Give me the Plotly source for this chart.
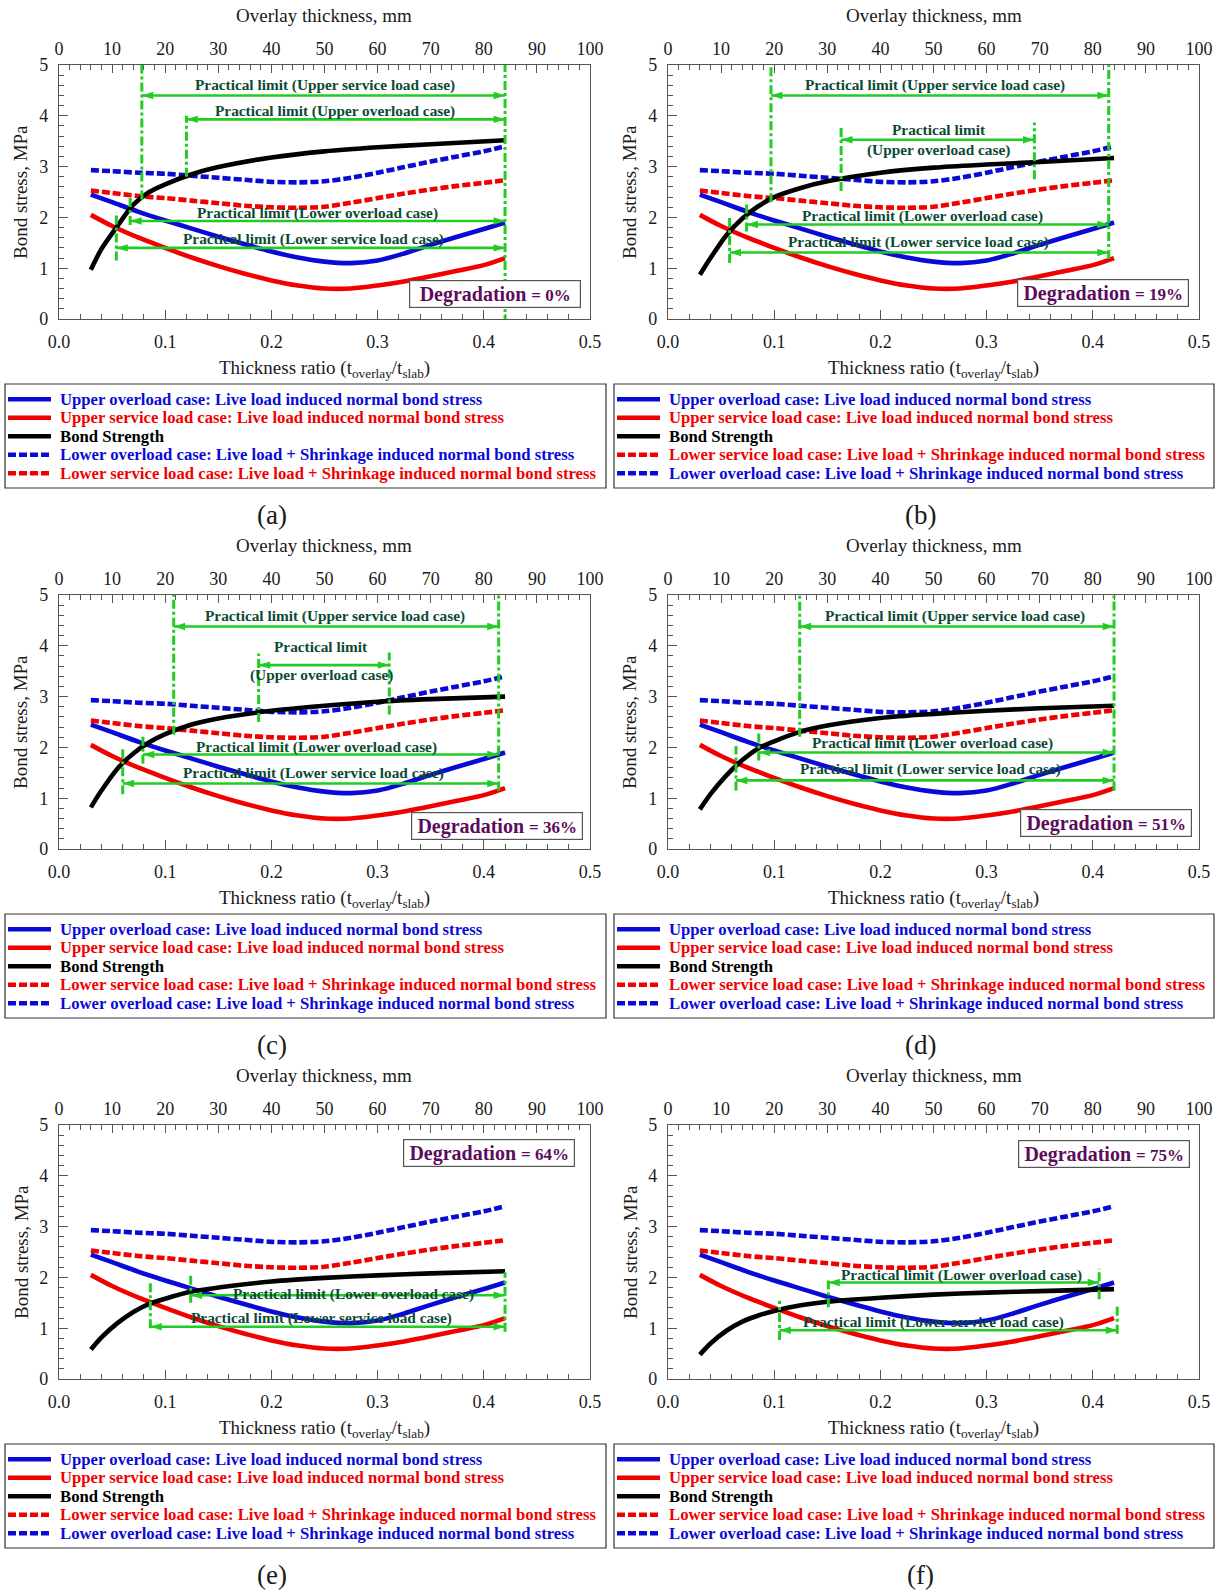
import plotly.graph_objects as go

FIG_W, FIG_H = 1230, 1592

# ---------------- data ----------------
ratio = [0.03, 0.05, 0.075, 0.1, 0.125, 0.15, 0.175, 0.2, 0.225, 0.25, 0.275, 0.3, 0.325, 0.35, 0.375, 0.4, 0.42]
upper_overload = [2.45, 2.30, 2.11, 1.94, 1.78, 1.62, 1.47, 1.33, 1.21, 1.13, 1.10, 1.15, 1.29, 1.46, 1.62, 1.77, 1.90]
upper_service = [2.05, 1.83, 1.60, 1.40, 1.21, 1.04, 0.89, 0.76, 0.66, 0.60, 0.60, 0.66, 0.74, 0.84, 0.95, 1.06, 1.20]
lower_overload = [2.93, 2.91, 2.88, 2.86, 2.82, 2.78, 2.74, 2.70, 2.69, 2.71, 2.78, 2.88, 2.99, 3.10, 3.20, 3.30, 3.40]
lower_service = [2.53, 2.48, 2.42, 2.38, 2.33, 2.28, 2.23, 2.20, 2.19, 2.21, 2.29, 2.38, 2.47, 2.55, 2.62, 2.68, 2.73]

bond_ratio = [0.03, 0.04, 0.055, 0.07, 0.085, 0.1, 0.125, 0.15, 0.2, 0.25, 0.3, 0.35, 0.42]
bond_a = [0.97, 1.38, 1.83, 2.25, 2.50, 2.65, 2.85, 2.99, 3.18, 3.30, 3.38, 3.44, 3.52]
bond_b = [0.87, 1.20, 1.65, 1.98, 2.22, 2.40, 2.58, 2.71, 2.88, 2.98, 3.04, 3.09, 3.17]
bond_c = [0.82, 1.15, 1.58, 1.88, 2.10, 2.26, 2.45, 2.57, 2.72, 2.82, 2.90, 2.95, 3.00]
bond_d = [0.78, 1.08, 1.45, 1.75, 1.98, 2.12, 2.31, 2.43, 2.58, 2.66, 2.72, 2.77, 2.82]
bond_e = [0.58, 0.82, 1.10, 1.32, 1.48, 1.58, 1.72, 1.80, 1.92, 1.99, 2.04, 2.08, 2.12]
bond_f = [0.48, 0.70, 0.95, 1.13, 1.25, 1.34, 1.45, 1.52, 1.60, 1.66, 1.70, 1.73, 1.77]
bond_strength = [bond_a, bond_b, bond_c, bond_d, bond_e, bond_f]

panel_labels = ['(a)', '(b)', '(c)', '(d)', '(e)', '(f)']
degradation = [0, 19, 36, 51, 64, 75]
deg_box_x = [0.411, 0.410, 0.412, 0.412, 0.405, 0.411]
deg_box_y = [0.49, 0.52, 0.45, 0.51, 4.45, 4.42]

top_ticks_mm = [0, 10, 20, 30, 40, 50, 60, 70, 80, 90, 100]
bottom_ticks = [0.0, 0.1, 0.2, 0.3, 0.4, 0.5]
y_ticks = [0, 1, 2, 3, 4, 5]

series_names = {
    'UO': 'Upper overload case: Live load induced normal bond stress',
    'US': 'Upper service load case: Live load induced normal bond stress',
    'BS': 'Bond Strength',
    'LO': 'Lower overload case: Live load + Shrinkage induced normal bond stress',
    'LS': 'Lower service load case: Live load + Shrinkage induced normal bond stress',
}
legend_orders = [['UO', 'US', 'BS', 'LO', 'LS']] + [['UO', 'US', 'BS', 'LS', 'LO']] * 5

# practical limits: case, start, end, arrow level, label position, start-line extent, optional end-line
practical_limits = [
    [  # (a)
        dict(case='Upper service load case', x0=0.078, x1=0.42, y=4.40, tx=0.25, ty=4.60, v=(2.35, 5.0)),
        dict(case='Upper overload case', x0=0.12, x1=0.42, y=3.93, tx=0.26, ty=4.09, v=(2.8, 4.0)),
        dict(case='Lower overload case', x0=0.067, x1=0.42, y=1.93, tx=0.243, ty=2.08, v=(1.85, 2.45)),
        dict(case='Lower service load case', x0=0.054, x1=0.42, y=1.40, tx=0.24, ty=1.57, v=(1.15, 2.1)),
    ],
    [  # (b)
        dict(case='Upper service load case', x0=0.097, x1=0.415, y=4.40, tx=0.251, ty=4.60, v=(2.3, 5.0)),
        dict(case='Upper overload case', x0=0.163, x1=0.345, y=3.53, tx=0.255, ty=3.74, ty2=3.33,
             v=(2.52, 3.82), vend=(2.75, 3.87)),
        dict(case='Lower overload case', x0=0.074, x1=0.415, y=1.86, tx=0.24, ty=2.03, v=(1.72, 2.32)),
        dict(case='Lower service load case', x0=0.058, x1=0.415, y=1.31, tx=0.236, ty=1.52, v=(1.1, 2.0)),
    ],
    [  # (c)
        dict(case='Upper service load case', x0=0.108, x1=0.414, y=4.38, tx=0.26, ty=4.59, v=(2.25, 5.0)),
        dict(case='Upper overload case', x0=0.188, x1=0.311, y=3.62, tx=0.247, ty=3.99, ty2=3.42,
             v=(2.5, 3.85), vend=(2.65, 3.87)),
        dict(case='Lower overload case', x0=0.079, x1=0.414, y=1.86, tx=0.242, ty=2.0, v=(1.68, 2.25)),
        dict(case='Lower service load case', x0=0.06, x1=0.414, y=1.29, tx=0.24, ty=1.5, v=(1.08, 1.97)),
    ],
    [  # (d)
        dict(case='Upper service load case', x0=0.124, x1=0.42, y=4.38, tx=0.27, ty=4.58, v=(2.21, 5.0)),
        dict(case='Lower overload case', x0=0.0855, x1=0.42, y=1.90, tx=0.249, ty=2.08, v=(1.74, 2.3)),
        dict(case='Lower service load case', x0=0.064, x1=0.42, y=1.35, tx=0.247, ty=1.57, v=(1.15, 2.03)),
    ],
    [  # (e)
        dict(case='Lower overload case', x0=0.124, x1=0.42, y=1.65, tx=0.277, ty=1.68, v=(1.5, 2.09)),
        dict(case='Lower service load case', x0=0.086, x1=0.42, y=1.03, tx=0.247, ty=1.2, v=(1.0, 1.91)),
    ],
    [  # (f)
        dict(case='Lower overload case', x0=0.151, x1=0.406, y=1.90, tx=0.276, ty=2.05, v=(1.41, 1.94),
             vend=(1.57, 2.17)),
        dict(case='Lower service load case', x0=0.105, x1=0.423, y=0.96, tx=0.25, ty=1.12, v=(0.77, 1.54),
             vend=(0.89, 1.48)),
    ],
]
# common right-hand limit line of each panel: x, y from, y to
end_lines = [(0.42, -0.1, 5.0), (0.415, 1.18, 5.0), (0.414, 1.15, 5.0), (0.42, 1.15, 5.0), (0.42, 0.93, 2.1), None]

# ---------------- style ----------------
BLUE = '#0a0ad8'
RED = '#f20000'
BLACK = '#000000'
GREEN = '#22cc22'
DKGREEN = '#0c4a34'
PURPLE = '#5c0c5c'
SERIF = 'Liberation Serif'
AXIS_COL = '#555555'

series_style = {
    'UO': dict(color=BLUE, dash='solid'),
    'US': dict(color=RED, dash='solid'),
    'BS': dict(color=BLACK, dash='solid'),
    'LO': dict(color=BLUE, dash='8px,3px'),
    'LS': dict(color=RED, dash='8px,3px'),
}

col_left = [59, 668]
col_right = [590, 1199]
row_top = [65, 595, 1125]
row_bottom = [319, 849, 1379]
ROW_OFF = 530


def pxx(p):
    return p / FIG_W


def pxy(p):
    return 1 - p / FIG_H


fig = go.Figure()
layout = dict(width=FIG_W, height=FIG_H, margin=dict(l=0, r=0, t=0, b=0, autoexpand=False),
              paper_bgcolor='white', plot_bgcolor='white', showlegend=False,
              font=dict(family=SERIF, color='#1a1a1a'))
shapes = []
annotations = []

tickfont = dict(family=SERIF, size=18, color='#1a1a1a')
titlefont = dict(family=SERIF, size=19, color='#1a1a1a')


def text_at(xref, yref, x, y, text, font, **kw):
    d = dict(xref=xref, yref=yref, x=x, y=y, text=text, font=font, showarrow=False,
             xanchor='center', yanchor='middle')
    d.update(kw)
    annotations.append(d)


for i in range(6):
    r, c = divmod(i, 2)
    xb = f'x{i + 1}'
    xt = f'x{i + 7}'
    yy = f'y{i + 1}'
    dom_x = [pxx(col_left[c]), pxx(col_right[c])]
    dom_y = [pxy(row_bottom[r]), pxy(row_top[r])]

    layout['xaxis' if i == 0 else f'xaxis{i + 1}'] = dict(
        domain=dom_x, anchor=yy, range=[0, 0.5], tickvals=bottom_ticks, tickformat='.1f',
        ticks='inside', ticklen=9, tickwidth=1, tickcolor=AXIS_COL,
        minor=dict(dtick=0.02, ticks='inside', ticklen=5, tickcolor=AXIS_COL),
        showline=True, linecolor=AXIS_COL, linewidth=1.2, showgrid=False, zeroline=False,
        tickfont=tickfont, ticklabelstandoff=6, fixedrange=True, automargin=False)
    layout[f'xaxis{i + 7}'] = dict(
        domain=dom_x, anchor=yy, overlaying=xb, side='top', range=[0, 100], tickvals=top_ticks_mm,
        ticks='inside', ticklen=8, tickwidth=1, tickcolor=AXIS_COL,
        minor=dict(dtick=2, ticks='inside', ticklen=5, tickcolor=AXIS_COL),
        showline=True, linecolor=AXIS_COL, linewidth=1.2, showgrid=False, zeroline=False,
        tickfont=tickfont, ticklabelstandoff=2, fixedrange=True, automargin=False)
    layout['yaxis' if i == 0 else f'yaxis{i + 1}'] = dict(
        domain=dom_y, anchor=xb, range=[0, 5], tickvals=y_ticks,
        ticks='inside', ticklen=9, tickwidth=1, tickcolor=AXIS_COL,
        minor=dict(dtick=0.2, ticks='inside', ticklen=5, tickcolor=AXIS_COL),
        showline=True, mirror=True, linecolor=AXIS_COL, linewidth=1.2, showgrid=False, zeroline=False,
        tickfont=tickfont, ticklabelstandoff=6, fixedrange=True, automargin=False)

    # invisible carrier trace so that the top (overlay thickness, mm) axis is drawn
    fig.add_trace(go.Scatter(x=[top_ticks_mm[0], top_ticks_mm[-1]], y=[y_ticks[0], y_ticks[0]], mode='lines',
                             line=dict(width=0), opacity=0, xaxis=xt, yaxis=yy,
                             showlegend=False, hoverinfo='skip'))

    # curves
    curves = {'UO': (ratio, upper_overload), 'US': (ratio, upper_service),
              'BS': (bond_ratio, bond_strength[i]), 'LO': (ratio, lower_overload),
              'LS': (ratio, lower_service)}
    for key in ['UO', 'US', 'LO', 'LS', 'BS']:
        xs, ys = curves[key]
        st = series_style[key]
        fig.add_trace(go.Scatter(x=xs, y=ys, mode='lines', name=series_names[key],
                                 line=dict(color=st['color'], width=4.6, dash=st['dash'], shape='spline',
                                           smoothing=0.8),
                                 xaxis=xb, yaxis=yy, showlegend=False, hoverinfo='skip'))

    # practical limits
    gline = dict(color=GREEN, width=3, dash='9px,3px,3px,3px')
    lab_font = dict(family=SERIF, size=15.3, color=DKGREEN, weight='bold')
    for lim in practical_limits[i]:
        shapes.append(dict(type='line', xref=xb, yref=yy, x0=lim['x0'], x1=lim['x0'],
                           y0=lim['v'][0], y1=lim['v'][1], line=gline, layer='above'))
        if 'vend' in lim:
            shapes.append(dict(type='line', xref=xb, yref=yy, x0=lim['x1'], x1=lim['x1'],
                               y0=lim['vend'][0], y1=lim['vend'][1], line=gline, layer='above'))
        # double-headed arrow: a two-point line with arrow markers at both ends
        fig.add_trace(go.Scatter(x=[lim['x0'], lim['x1']], y=[lim['y'], lim['y']], mode='lines+markers',
                                 line=dict(color=GREEN, width=2.6),
                                 marker=dict(symbol='arrow', size=12, angle=[-90, 90], color=GREEN,
                                             line=dict(width=0)),
                                 xaxis=xb, yaxis=yy, showlegend=False, hoverinfo='skip', cliponaxis=False))
        if 'ty2' in lim:
            text_at(xb, yy, lim['tx'], lim['ty'], 'Practical limit', lab_font)
            text_at(xb, yy, lim['tx'], lim['ty2'], f"({lim['case']})", lab_font)
        else:
            text_at(xb, yy, lim['tx'], lim['ty'], f"Practical limit ({lim['case']})", lab_font)
    if end_lines[i] is not None:
        ex, ey0, ey1 = end_lines[i]
        shapes.append(dict(type='line', xref=xb, yref=yy, x0=ex, x1=ex, y0=ey0, y1=ey1,
                           line=gline, layer='above'))

    # degradation box
    text_at(xb, yy, deg_box_x[i], deg_box_y[i],
            f"Degradation <span style='font-size:17px'>= {degradation[i]}%</span>",
            dict(family=SERIF, size=20, color=PURPLE, weight='bold'),
            bgcolor='white', bordercolor='#555555', borderwidth=1.2, borderpad=1, width=168, height=24)

    # axis titles
    cx = (col_left[c] + col_right[c]) / 2
    cy = (row_top[r] + row_bottom[r]) / 2
    off = r * ROW_OFF
    text_at('paper', 'paper', pxx(cx), pxy(15 + off), 'Overlay thickness, mm', titlefont)
    text_at('paper', 'paper', pxx(cx), pxy(369 + off),
            'Thickness ratio (t<sub>overlay</sub>/t<sub>slab</sub>)', titlefont)
    text_at('paper', 'paper', pxx(21 if c == 0 else 630), pxy(cy), 'Bond stress, MPa', titlefont,
            textangle=-90)

    # legend box
    bx0, bx1 = (5, 606) if c == 0 else (614, 1214)
    shapes.append(dict(type='rect', xref='paper', yref='paper', x0=pxx(bx0), x1=pxx(bx1),
                       y0=pxy(488 + off), y1=pxy(384 + off), line=dict(color='#333333', width=1.2)))
    for k, key in enumerate(legend_orders[i]):
        ly = 399.2 + 18.5 * k + off
        st = series_style[key]
        shapes.append(dict(type='line', xref='paper', yref='paper', x0=pxx(bx0 + 3), x1=pxx(bx0 + 46),
                           y0=pxy(ly), y1=pxy(ly), line=dict(color=st['color'], width=4.5, dash=st['dash'])))
        text_at('paper', 'paper', pxx(bx0 + 53), pxy(ly), series_names[key],
                dict(family=SERIF, size=16.7, color=st['color'], weight='bold'), xanchor='left')
    # panel label
    text_at('paper', 'paper', pxx(272 if c == 0 else 920), pxy(515 + off), panel_labels[i],
            dict(family=SERIF, size=27, color='#1a1a1a'))

layout['shapes'] = shapes
layout['annotations'] = annotations
fig.update_layout(**layout)
fig.write_html('out.html', config={'displayModeBar': False},
               post_script="document.body.style.margin='0px';document.body.style.overflow='hidden';")
